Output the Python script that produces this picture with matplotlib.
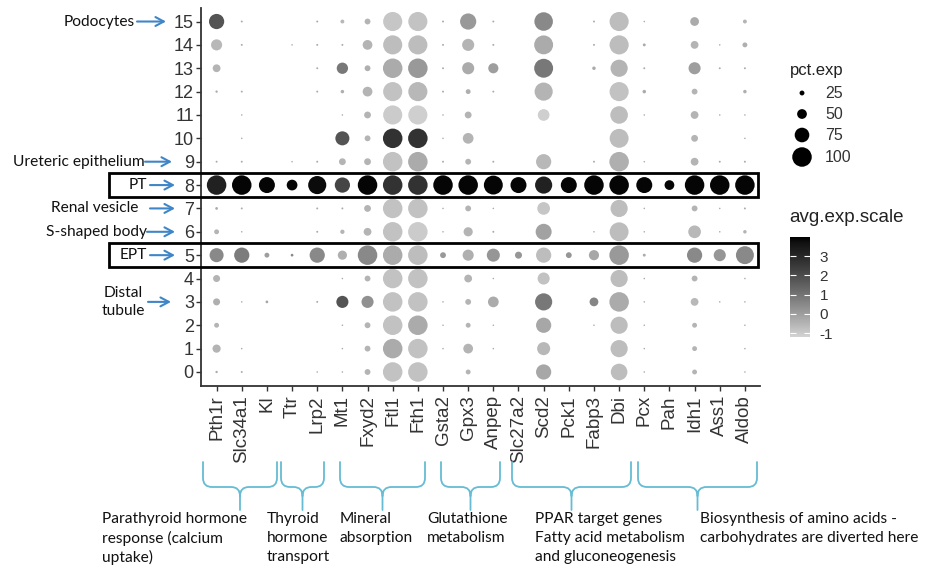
import numpy as np
import matplotlib
matplotlib.use("Agg")
import matplotlib.pyplot as plt
from matplotlib.colors import ListedColormap, Normalize
from matplotlib.cm import ScalarMappable
from matplotlib.patches import Rectangle, PathPatch
from matplotlib.path import Path
from matplotlib import transforms

plt.rcParams["axes.unicode_minus"] = False

# ---------------------------------------------------------------- data
genes = ["Pth1r", "Slc34a1", "Kl", "Ttr", "Lrp2", "Mt1", "Fxyd2", "Ftl1", "Fth1",
         "Gsta2", "Gpx3", "Anpep", "Slc27a2", "Scd2", "Pck1", "Fabp3", "Dbi",
         "Pcx", "Pah", "Idh1", "Ass1", "Aldob"]
clusters = list(range(16))

# percent of cells expressing each gene (rows: cluster 0..15)
pct_exp = [
    [12, 10, 0, 0, 8, 8, 30, 100, 100, 0, 25, 0, 0, 78, 0, 0, 85, 8, 0, 25, 0, 8],
    [42, 8, 0, 0, 0, 8, 30, 100, 100, 8, 50, 8, 0, 67, 0, 0, 88, 8, 0, 25, 0, 8],
    [25, 0, 0, 0, 0, 8, 30, 100, 100, 8, 25, 8, 0, 78, 0, 8, 88, 8, 0, 25, 0, 8],
    [36, 8, 14, 0, 10, 62, 62, 100, 100, 8, 30, 55, 0, 88, 0, 45, 100, 8, 0, 40, 8, 8],
    [36, 0, 0, 0, 0, 8, 30, 100, 100, 0, 40, 8, 0, 62, 0, 0, 88, 8, 0, 30, 0, 8],
    [72, 78, 25, 14, 78, 47, 100, 100, 100, 30, 57, 67, 36, 78, 30, 52, 100, 15, 0, 78, 62, 92],
    [25, 8, 0, 0, 10, 22, 40, 100, 100, 8, 47, 10, 0, 82, 0, 8, 97, 8, 0, 65, 8, 18],
    [14, 10, 0, 0, 10, 10, 35, 100, 100, 8, 30, 8, 0, 65, 0, 0, 88, 8, 0, 30, 8, 10],
    [100, 100, 82, 55, 93, 78, 100, 100, 100, 100, 100, 97, 82, 88, 82, 100, 100, 82, 50, 100, 100, 100],
    [10, 10, 0, 8, 10, 35, 35, 100, 100, 10, 30, 10, 0, 78, 0, 10, 100, 8, 0, 40, 10, 10],
    [0, 8, 0, 0, 0, 72, 30, 100, 100, 8, 55, 0, 0, 0, 0, 0, 97, 0, 0, 35, 0, 8],
    [0, 8, 0, 0, 0, 8, 35, 98, 98, 8, 35, 0, 0, 60, 0, 0, 90, 8, 0, 40, 8, 8],
    [12, 10, 0, 0, 10, 18, 50, 98, 98, 10, 25, 10, 0, 93, 0, 0, 98, 18, 0, 30, 0, 18],
    [40, 0, 0, 0, 10, 58, 30, 100, 100, 10, 62, 52, 0, 97, 0, 18, 88, 10, 0, 62, 10, 10],
    [57, 10, 0, 8, 10, 10, 50, 98, 98, 10, 62, 10, 0, 97, 0, 10, 98, 15, 0, 40, 8, 25],
    [78, 10, 0, 0, 10, 20, 30, 98, 98, 10, 83, 10, 0, 95, 0, 10, 98, 8, 0, 45, 0, 20],
]

# scaled average expression (rows: cluster 0..15)
avg_exp_scale = [
    [-0.3, -0.3, 0, 0, -0.3, -0.3, -0.5, -0.8, -0.8, 0, -0.5, 0, 0, -0.2, 0, 0, -0.7, -0.3, 0, -0.5, 0, -0.3],
    [-0.5, -0.3, 0, 0, 0, -0.3, -0.5, -0.3, -0.8, -0.3, -0.5, -0.3, 0, -0.6, 0, 0, -0.7, -0.3, 0, -0.5, 0, -0.3],
    [-0.5, 0, 0, 0, 0, -0.3, -0.5, -0.8, -0.3, -0.3, -0.5, -0.3, 0, -0.2, 0, -0.3, -0.7, -0.3, 0, -0.5, 0, -0.3],
    [-0.4, -0.3, -0.2, 0, -0.3, 1.8, 0.3, -0.8, -0.8, -0.3, -0.5, -0.3, 0, 0.9, 0, 0.6, -0.3, -0.3, 0, -0.6, -0.3, -0.3],
    [-0.5, 0, 0, 0, 0, -0.3, -0.5, -0.8, -0.8, 0, -0.5, -0.3, 0, -0.8, 0, 0, -0.7, -0.3, 0, -0.5, 0, -0.3],
    [0.5, 0.8, 0.0, 0.5, 0.5, -0.4, 0.5, -0.3, -0.7, 0.1, -0.4, 0.2, 0.2, -0.7, 0.2, -0.2, 0.1, -0.3, 0, 0.5, 0.2, 0.5],
    [-0.5, -0.3, 0, 0, -0.3, -0.5, -0.5, -0.8, -1.0, -0.3, -0.5, -0.3, 0, -0.1, 0, -0.3, -0.7, -0.3, 0, -0.6, -0.3, -0.5],
    [-0.3, -0.3, 0, 0, -0.3, -0.3, -0.5, -0.8, -0.8, -0.3, -0.5, -0.3, 0, -0.9, 0, 0, -0.7, -0.3, 0, -0.5, -0.3, -0.3],
    [3.2, 3.9, 3.9, 3.9, 3.8, 2.2, 3.9, 2.7, 2.7, 3.9, 3.9, 3.9, 3.9, 3.2, 3.9, 3.9, 3.9, 3.9, 3.9, 3.9, 3.9, 3.9],
    [-0.3, -0.3, 0, -0.3, -0.3, -0.5, -0.5, -0.8, -0.3, -0.3, -0.5, -0.3, 0, -0.6, 0, -0.3, -0.4, -0.3, 0, -0.5, -0.3, -0.3],
    [0, -0.3, 0, 0, 0, 1.8, -0.5, 2.7, 2.7, -0.3, -0.5, 0, 0, 0, 0, 0, -0.7, 0, 0, -0.5, 0, -0.3],
    [0, -0.3, 0, 0, 0, -0.3, -0.5, -1.0, -1.1, -0.3, -0.5, 0, 0, -1.1, 0, 0, -0.7, -0.3, 0, -0.5, -0.3, -0.3],
    [-0.3, -0.3, 0, 0, -0.3, -0.4, -0.5, -0.8, -0.6, -0.3, -0.4, -0.3, 0, -0.5, 0, 0, -0.8, -0.3, 0, -0.5, 0, -0.4],
    [-0.5, 0, 0, 0, -0.3, 0.9, -0.4, -0.3, 0.1, -0.3, -0.3, 0.0, 0, 0.9, 0, -0.3, -0.5, -0.3, 0, 0.0, -0.3, -0.3],
    [-0.6, -0.3, 0, -0.3, -0.3, -0.3, -0.5, -0.7, -0.7, -0.3, -0.5, -0.3, 0, -0.3, 0, -0.3, -0.7, -0.3, 0, -0.5, -0.3, -0.4],
    [1.8, -0.3, 0, 0, -0.3, -0.6, -0.5, -0.9, -0.85, -0.3, 0.1, -0.3, 0, 0.5, 0, -0.3, -0.7, -0.3, 0, -0.3, 0, -0.5],
]

size_breaks = [25, 50, 75, 100]
color_ticks = [-1, 0, 1, 2, 3]
color_limits = (-1.2, 4.0)

# cluster annotations on the left: (label, cluster)
cluster_labels = [("Podocytes", 15), ("Ureteric epithelium", 9), ("PT", 8),
                  ("Renal vesicle", 7), ("S-shaped body", 6), ("EPT", 5),
                  ("Distal\ntubule", 3)]
boxed_clusters = [8, 5]

# gene groups under the x axis
group_labels = [
    ["Parathyroid hormone", "response (calcium", "uptake)"],
    ["Thyroid", "hormone", "transport"],
    ["Mineral", "absorption"],
    ["Glutathione", "metabolism"],
    ["PPAR target genes", "Fatty acid metabolism", "and gluconeogenesis"],
    ["Biosynthesis of amino acids -", "carbohydrates are diverted here"],
]

# ---------------------------------------------------------------- layout helpers
W, H = 928, 569
fig = plt.figure(figsize=(W / 100, H / 100), dpi=100)


def fx(px):
    return px / W


def fy(py):
    return 1 - py / H


def gray_ramp(low=211, n=256):
    """Grey ramp from `low` to black, linear in CIE lightness."""
    def lin(c):
        c = c / 255
        return c / 12.92 if c <= 0.04045 else ((c + 0.055) / 1.055) ** 2.4
    Y0 = lin(low)
    L0 = 116 * Y0 ** (1 / 3) - 16
    cols = []
    for t in np.linspace(0, 1, n):
        L = L0 * (1 - t)
        Y = ((L + 16) / 116) ** 3 if L > 8 else L / 903.3
        s = 12.92 * Y if Y <= 0.0031308 else 1.055 * Y ** (1 / 2.4) - 0.055
        cols.append((s, s, s))
    return ListedColormap(cols)


cmap = gray_ramp()
norm = Normalize(*color_limits)
TXT = "#333333"
AXFONT = "Liberation Sans"
ANNFONT = "Lato"
ANNSIZE = 11.2
BLUE = "#3f86c8"
TEAL = "#66bcd4"


def px_size(pct):
    d_px = 0.195 * np.asarray(pct, float)
    return (d_px * 72 / 100) ** 2


# ---------------------------------------------------------------- dot plot
ax = fig.add_axes([fx(201.5), fy(386), fx(760) - fx(201.5), fy(7.5) - fy(386)])
P = np.array(pct_exp, float)
A = np.array(avg_exp_scale, float)
yy, xx = np.nonzero(P > 0)
ax.scatter(xx, yy, s=px_size(P[yy, xx]), c=A[yy, xx], cmap=cmap, norm=norm,
           linewidths=0, zorder=3)

ax.set_xlim(-0.6, len(genes) - 0.4)
ax.set_ylim(-0.6, len(clusters) - 0.4)
ax.set_xticks(range(len(genes)))
ax.set_xticklabels(genes, rotation=90, fontsize=13.5, family=AXFONT, color=TXT)
ax.set_yticks(clusters)
ax.set_yticklabels([str(c) for c in clusters], fontsize=13, family=AXFONT, color=TXT)
for side in ("top", "right"):
    ax.spines[side].set_visible(False)
for side in ("left", "bottom"):
    ax.spines[side].set_color("#333333")
    ax.spines[side].set_linewidth(1.3)
ax.tick_params(axis="both", length=3.5, width=1.0, color="#333333")
ax.tick_params(axis="y", pad=2)
ax.tick_params(axis="x", pad=3)

# ---------------------------------------------------------------- left annotations
trans = transforms.blended_transform_factory(fig.transFigure, ax.transData)
label_geom = {  # text x (right edge or centre), arrow start, arrow end (pixels)
    "Podocytes": (135, 137, 166),
    "Ureteric epithelium": (145, 145, 172),
    "PT": (147, 150, 175),
    "Renal vesicle": (138, 150, 175),
    "S-shaped body": (147, 147, 175),
    "EPT": (147, 150, 175),
    "Distal\ntubule": (123, 148, 171),
}
for text, row in cluster_labels:
    tx, a0, a1 = label_geom[text]
    ha = "center" if "\n" in text else "right"
    ax.text(fx(tx), row, text, transform=trans, ha=ha, va="center",
            fontsize=ANNSIZE, family=ANNFONT, color="#111111", linespacing=1.3,
            clip_on=False)
    ax.annotate("", xy=(fx(a1), row), xytext=(fx(a0), row),
                xycoords=trans, textcoords=trans,
                arrowprops=dict(arrowstyle="->,head_length=0.6,head_width=0.32",
                                color=BLUE, lw=1.5, shrinkA=0, shrinkB=0),
                annotation_clip=False)

for row in boxed_clusters:
    ax.add_patch(Rectangle((fx(109), row - 0.5), fx(758) - fx(109), 1.0,
                           transform=trans, fill=False, ec="black", lw=2.0,
                           clip_on=False, zorder=5))

# ---------------------------------------------------------------- gene group braces
brace_spans = [(203, 277), (281, 324), (340, 425), (441, 500), (512, 631), (638, 757)]
text_left = [102, 267, 340, 427, 535, 700]


def brace(x0, x1, yt=462, ym=487, yb=510, r=9):
    xc = (x0 + x1) / 2
    pts = [(x0, yt), (x0, ym - r), (x0, ym), (x0 + r, ym),
           (xc - r, ym), (xc, ym), (xc, ym + r), (xc, yb),
           (xc, ym + r), (xc, ym), (xc + r, ym),
           (x1 - r, ym), (x1, ym), (x1, ym - r), (x1, yt)]
    codes = [Path.MOVETO, Path.LINETO, Path.CURVE3, Path.CURVE3,
             Path.LINETO, Path.CURVE3, Path.CURVE3, Path.LINETO,
             Path.MOVETO, Path.CURVE3, Path.CURVE3,
             Path.LINETO, Path.CURVE3, Path.CURVE3, Path.LINETO]
    verts = [(fx(x), fy(y)) for x, y in pts]
    return PathPatch(Path(verts, codes), transform=fig.transFigure,
                     fill=False, ec=TEAL, lw=1.3, capstyle="round")


for (x0, x1), xl, lines in zip(brace_spans, text_left, group_labels):
    fig.add_artist(brace(x0, x1))
    for i, line in enumerate(lines):
        fig.text(fx(xl), fy(519 + 19 * i), line, ha="left", va="center",
                 fontsize=ANNSIZE, family=ANNFONT, color="#111111")

# ---------------------------------------------------------------- legends
fig.text(fx(790), fy(70), "pct.exp", ha="left", va="center", fontsize=12,
         family=AXFONT, color="#222222")
lax = fig.add_axes([fx(785), fy(170), fx(850) - fx(785), fy(80) - fy(170)])
lax.set_xlim(785, 850)
lax.set_ylim(170, 80)
lax.axis("off")
leg_y = [93, 114, 135, 157]
lax.scatter([802] * len(size_breaks), leg_y, s=px_size(size_breaks), color="black",
            linewidths=0)
for v, y in zip(size_breaks, leg_y):
    lax.text(825, y, str(v), ha="left", va="center", fontsize=11.5, family=AXFONT,
             color=TXT)

fig.text(fx(789), fy(218), "avg.exp.scale", ha="left", va="center", fontsize=13.5,
         family=AXFONT, color="#222222")
cax = fig.add_axes([fx(790), fy(337), fx(810) - fx(790), fy(237) - fy(337)])
cb = fig.colorbar(ScalarMappable(norm=norm, cmap=cmap), cax=cax, ticks=color_ticks)
cb.outline.set_visible(False)
cax.tick_params(direction="in", length=4, width=0.8, color="white",
                left=True, right=True, labelsize=11, labelcolor=TXT, pad=7)
for t in cax.get_yticklabels():
    t.set_family(AXFONT)

fig.savefig("out.png", dpi=100, facecolor="white")
